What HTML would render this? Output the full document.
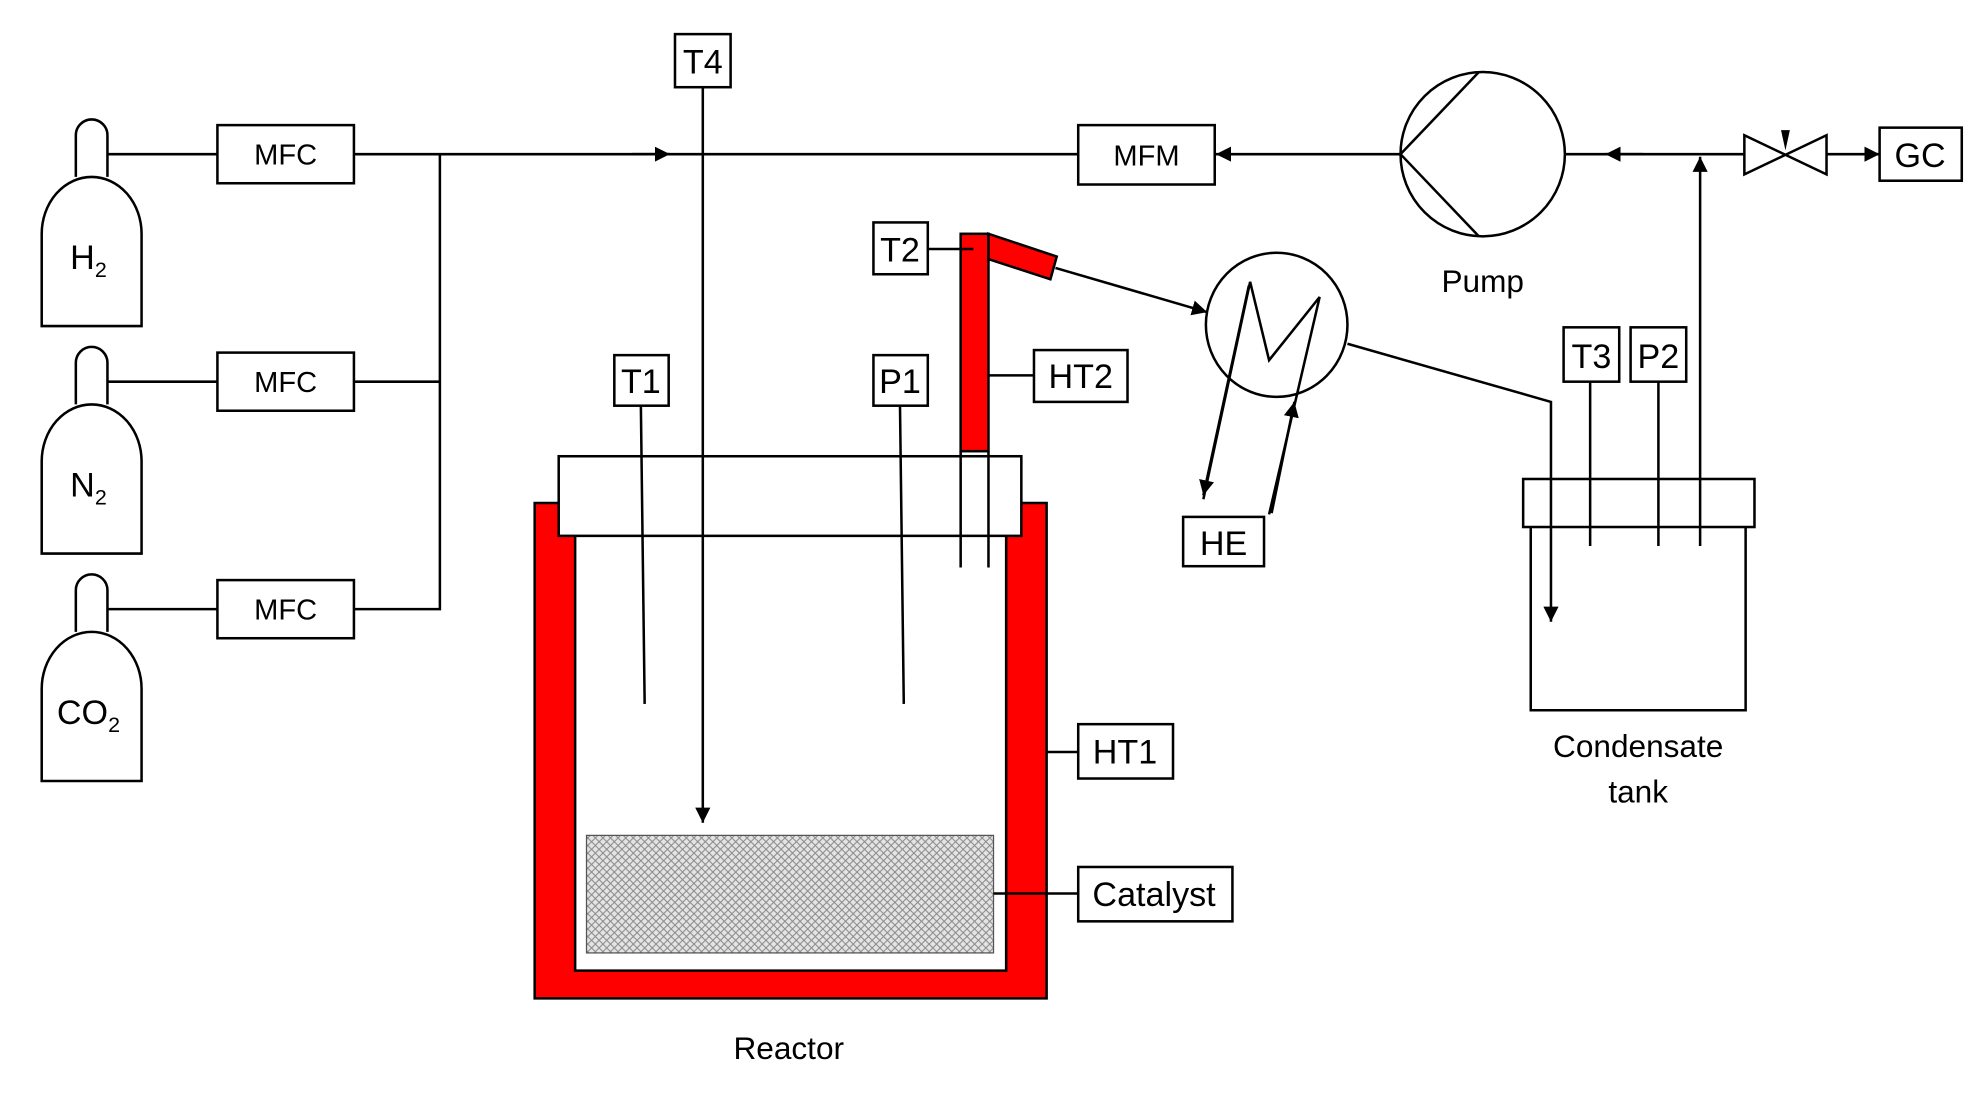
<!DOCTYPE html>
<html><head><meta charset="utf-8"><style>html,body{margin:0;padding:0;background:#fff}svg{display:block}text{font-family:"Liberation Sans",sans-serif;fill:#000}</style></head><body>
<svg width="1982" height="1097" viewBox="0 0 1568 868" preserveAspectRatio="none" xmlns="http://www.w3.org/2000/svg">
<defs>
<pattern id="h" width="6" height="6" patternUnits="userSpaceOnUse"><rect width="6" height="6" fill="#e4e4e4"/><path d="M0 0L6 6M6 0L0 6" stroke="#888" stroke-width="0.8"/></pattern>
<marker id="a" viewBox="0 0 10 10" refX="10" refY="5" markerWidth="12" markerHeight="12" markerUnits="userSpaceOnUse" orient="auto"><path d="M0 0L10 5L0 10z" fill="#000"/></marker>
</defs>
<g fill="none" stroke="#000" stroke-width="2">
<path d="M60 140V107a12.5 12.5 0 0 1 25 0V140"/><path d="M33 258V185a39.5 45 0 0 1 79 0V258z"/>
<path d="M60 320V287a12.5 12.5 0 0 1 25 0V320M33 438V365a39.5 45 0 0 1 79 0V438z"/>
<path d="M60 500V467a12.5 12.5 0 0 1 25 0V500M33 618V545a39.5 45 0 0 1 79 0V618z"/>
<path d="M85 122H172M85 302H172M85 482H172"/>
<rect x="172" y="99" width="108" height="46"/><rect x="172" y="279" width="108" height="46"/><rect x="172" y="459" width="108" height="46"/>
<path d="M280 302H348M280 482H348V122M280 122H853"/>
<path d="M500 122H530" marker-end="url(#a)"/>
<rect x="534" y="27" width="44" height="42"/>
<rect x="853" y="99" width="108" height="47"/>
<path d="M1108 122H962" marker-end="url(#a)"/>
<ellipse cx="1173" cy="122" rx="65" ry="65"/>
<path d="M1170 57L1108 122L1170 187"/>
<path d="M1238 122H1380"/><path d="M1300 122H1270" marker-end="url(#a)"/>
<path d="M1345 432V124" marker-end="url(#a)"/>
<path d="M1380 107V138L1445 107V138Z"/>
<path d="M1445 122H1487" marker-end="url(#a)"/>
<rect x="1487" y="101" width="65" height="42"/>
<path d="M423 398h32v370h341v-370h32v392h-405z" fill="#f00"/>
<rect x="442" y="361" width="366" height="63" fill="#fff"/>
<path d="M556 69V651" marker-end="url(#a)"/>
<rect x="464" y="661" width="322" height="93" fill="url(#h)" stroke="#555" stroke-width="1"/>
<path d="M786 707H853"/>
<rect x="853" y="686" width="122" height="43"/>
<path d="M828 595H853"/>
<rect x="853" y="573" width="75" height="43"/>
<rect x="486" y="281" width="43" height="40"/><path d="M507 321L510 557"/>
<rect x="691" y="281" width="43" height="40"/><path d="M712 321L715 557"/>
<rect x="760" y="185" width="22" height="172" fill="#f00"/>
<path d="M760 357V449M782 357V449"/>
<path d="M782 185L836 203L831 221L782 205Z" fill="#f00"/>
<rect x="691" y="176" width="43" height="41"/><path d="M734 197H770"/>
<path d="M782 297H818"/><rect x="818" y="277" width="74" height="41"/>
<path d="M835 212L955 247" marker-end="url(#a)"/>
<ellipse cx="1010" cy="257" rx="56" ry="57"/>
<path d="M952 395L989 223L1004 285L1044 235L1004 407"/>
<path d="M988 226L952 392" marker-end="url(#a)"/>
<path d="M1006 406L1024 318" marker-end="url(#a)"/>
<rect x="936" y="409" width="64" height="39"/>
<path d="M1066 272L1227 318V492" marker-end="url(#a)"/>
<rect x="1205" y="379" width="183" height="38"/>
<path d="M1211 417V562H1381V417"/>
<rect x="1237" y="259" width="44" height="43"/><path d="M1258 302V432"/>
<rect x="1290" y="259" width="44" height="43"/><path d="M1312 302V432"/>
</g>
<path d="M1409 103h7l-3.5 16z" fill="#000"/>
<g font-size="23" text-anchor="middle">
<text x="226" y="130">MFC</text><text x="226" y="310">MFC</text><text x="226" y="490">MFC</text>
<text x="907" y="131">MFM</text>
</g>
<g font-size="27" text-anchor="middle">
<text x="70" y="213">H<tspan font-size="17" dy="6">2</tspan></text>
<text x="70" y="393">N<tspan font-size="17" dy="6">2</tspan></text>
<text x="70" y="573">CO<tspan font-size="17" dy="6">2</tspan></text>
<text x="556" y="58">T4</text><text x="1519" y="132">GC</text>
<text x="507" y="311">T1</text><text x="712" y="311">P1</text><text x="712" y="207">T2</text>
<text x="855" y="307">HT2</text><text x="968" y="439">HE</text>
<text x="1259" y="291">T3</text><text x="1312" y="291">P2</text>
<text x="890" y="604">HT1</text><text x="913" y="717">Catalyst</text>
</g>
<g font-size="25" text-anchor="middle">
<text x="1173" y="231">Pump</text>
<text x="1296" y="599">Condensate</text><text x="1296" y="635">tank</text>
<text x="624" y="838">Reactor</text>
</g>
</svg>
</body></html>
